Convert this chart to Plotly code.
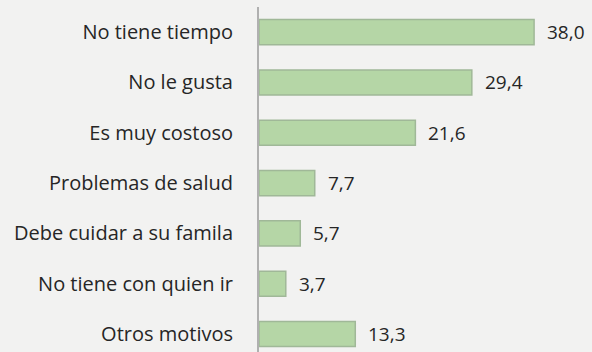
import plotly.graph_objects as go

# Motivos por los que no realiza actividad física (%)
motivos = [
    "No tiene tiempo",
    "No le gusta",
    "Es muy costoso",
    "Problemas de salud",
    "Debe cuidar a su famila",
    "No tiene con quien ir",
    "Otros motivos",
]
porcentajes = [38.0, 29.4, 21.6, 7.7, 5.7, 3.7, 13.3]

posiciones = list(range(len(motivos)))
etiquetas = [f"{v:.1f}".replace(".", ",") for v in porcentajes]

FUENTE = "'Open Sans', Lato, sans-serif"

fig = go.Figure()
fig.add_trace(go.Bar(
    x=porcentajes,
    y=posiciones,
    orientation="h",
    width=0.5,
    marker=dict(color="#B5D6A6", line=dict(color="#A0B898", width=1.5)),
    hoverinfo="skip",
))

# Valores a la derecha de cada barra
for pos, val, txt in zip(posiciones, porcentajes, etiquetas):
    fig.add_annotation(
        x=val, y=pos, text=txt, showarrow=False,
        xanchor="left", yanchor="middle", xshift=11,
        font=dict(family=FUENTE, size=19, color="#262626"),
    )

fig.update_layout(
    width=592, height=352,
    margin=dict(l=259, r=0, t=7, b=0),
    paper_bgcolor="#F2F2F1",
    plot_bgcolor="rgba(0,0,0,0)",
    showlegend=False,
    xaxis=dict(range=[0, 46], visible=False, fixedrange=True),
    yaxis=dict(
        range=[6.357, -0.5],
        tickmode="array", tickvals=posiciones, ticktext=motivos,
        showgrid=False, zeroline=False,
        showline=True, linecolor="#B0B0B0", linewidth=2,
        ticks="", ticklabelstandoff=20,
        tickfont=dict(family=FUENTE, size=20, color="#262626"),
    ),
)

fig.write_html("out.html")
